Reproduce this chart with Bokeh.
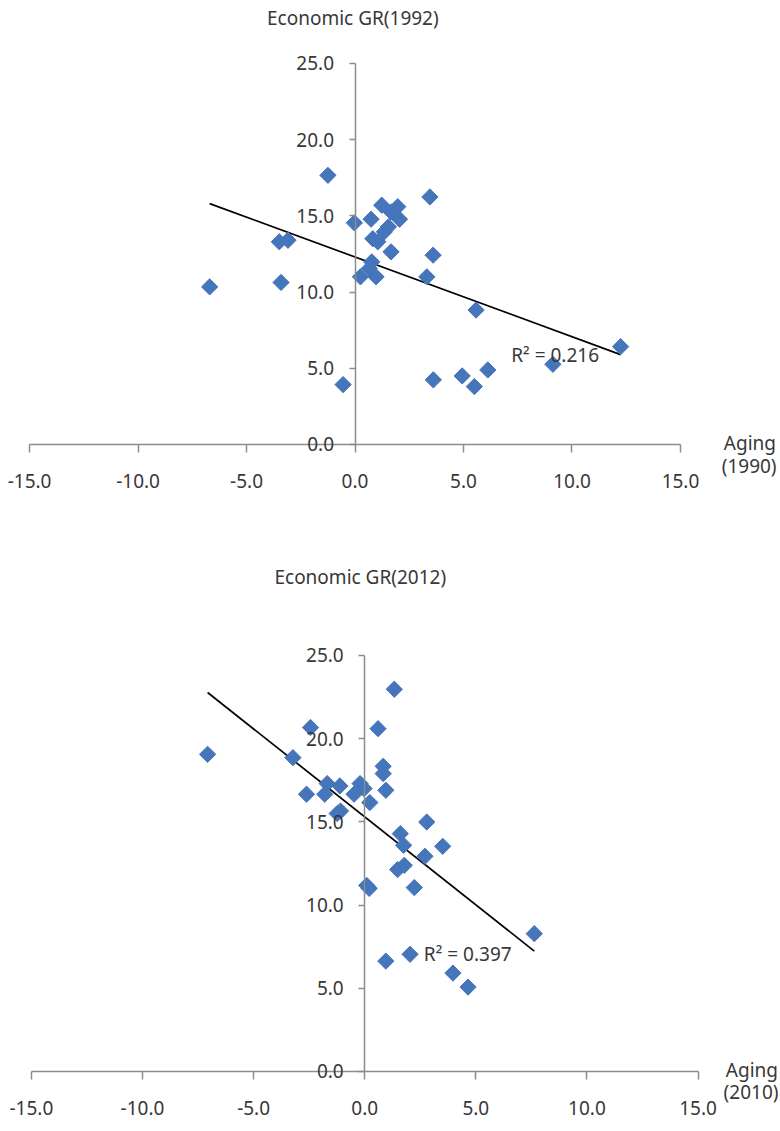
import numpy as np
from bokeh.plotting import figure
from bokeh.layouts import column
from bokeh.models import LinearAxis, FixedTicker, NumeralTickFormatter, Label, ColumnDataSource
from bokeh.embed import file_html
from bokeh.resources import INLINE

# ---- data: chart 1 (Aging 1990 vs Economic GR 1992)
aging_1990 = [-6.70, -1.25, -3.49, -3.09, -3.41, -0.03, 0.25, -0.55, 0.74, 1.23, 1.66, 1.97,
              2.05, 0.82, 1.05, 1.35, 1.54, 1.66, 0.77, 0.66, 0.97, 3.45, 3.60, 3.31, 5.58,
              12.24, 9.12, 6.12, 4.94, 5.50, 3.61]
gr_1992 = [10.34, 17.66, 13.30, 13.40, 10.63, 14.54, 11.00, 3.93, 14.78, 15.70, 15.26, 15.60,
           14.78, 13.50, 13.30, 13.95, 14.28, 12.64, 11.98, 11.55, 11.00, 16.24, 12.42, 11.00, 8.82,
           6.42, 5.26, 4.89, 4.50, 3.80, 4.24]
trend_1992 = (-0.523, 12.30)   # slope, intercept
r2_1992 = "R² = 0.216"

# ---- data: chart 2 (Aging 2010 vs Economic GR 2012)
aging_2010 = [-7.07, -3.23, -2.44, -2.62, -1.80, -1.69, -1.12, -1.24, -1.09, -0.48, -0.21, -0.03,
              0.23, 0.60, 1.33, 0.83, 0.83, 0.95, 2.79, 1.60, 1.75, 3.51, 2.71, 1.48, 1.78,
              0.09, 0.20, 2.23, 7.63, 0.95, 2.04, 3.97, 4.65]
gr_2012 = [19.06, 18.86, 20.67, 16.66, 16.66, 17.30, 17.16, 15.50, 15.65, 16.66, 17.30, 17.00,
           16.16, 20.60, 22.97, 18.34, 17.90, 16.90, 14.99, 14.29, 13.59, 13.53, 12.93, 12.13, 12.39,
           11.18, 11.00, 11.05, 8.28, 6.63, 7.04, 5.91, 5.07]
trend_2012 = (-1.057, 15.30)
r2_2012 = "R² = 0.397"

x_ticks = [-15, -10, -5, 0, 5, 10, 15]
y_ticks = [0, 5, 10, 15, 20, 25]

FONT = "Noto Sans"
FS = "19px"
TXT = "#383838"
AXC = "#8c8c8c"
BLUE = "#4575BA"


def make_chart(xs, ys, trend, r2, title, xlab, h, xr, yr, title_pos, r2_pos, lab_pos):
    p = figure(width=780, height=h, x_range=xr, y_range=yr, output_backend="svg",
               toolbar_location=None, x_axis_type=None, y_axis_type=None,
               min_border=0, outline_line_color=None)
    p.xgrid.visible = False
    p.ygrid.visible = False

    xa = LinearAxis(fixed_location=0, bounds=(-15, 15), ticker=FixedTicker(ticks=x_ticks),
                    formatter=NumeralTickFormatter(format="0.0"))
    ya = LinearAxis(fixed_location=0, bounds=(0, 25), ticker=FixedTicker(ticks=y_ticks),
                    formatter=NumeralTickFormatter(format="0.0"))
    for ax in (xa, ya):
        ax.axis_line_color = AXC
        ax.axis_line_width = 1.5
        ax.major_tick_line_color = AXC
        ax.major_tick_line_width = 1.5
        ax.major_tick_in = 0
        ax.minor_tick_line_color = None
        ax.major_label_text_font = FONT
        ax.major_label_text_font_size = FS
        ax.major_label_text_color = TXT
    xa.major_tick_out = 8
    xa.major_label_standoff = 22
    ya.major_tick_out = 6
    ya.major_label_standoff = 15
    p.add_layout(xa, "below")
    p.add_layout(ya, "left")

    slope, icpt = trend
    tx = np.array([min(xs), max(xs)])
    p.line(tx, slope * tx + icpt, line_color="black", line_width=1.7)

    src = ColumnDataSource(dict(x=xs, y=ys))
    p.scatter("x", "y", source=src, marker="square", angle=np.pi / 4, size=11.5,
              fill_color=BLUE, line_color=BLUE)

    def lab(x, y, t, align):
        p.add_layout(Label(x=x, y=y, text=t, text_align=align, text_baseline="middle",
                           text_font=FONT, text_font_size=FS, text_color=TXT))

    lab(title_pos[0], title_pos[1], title, "center")
    lab(r2_pos[0], r2_pos[1], r2, "left")
    lab(lab_pos[0], lab_pos[1], "Aging", "left")
    lab(lab_pos[0] - 0.1, lab_pos[2], xlab, "left")
    return p


p1 = make_chart(aging_1990, gr_1992, trend_1992, r2_1992, "Economic GR(1992)", "(1990)",
                540, (-16.34, 19.61), (-6.30, 29.13),
                (-0.1, 27.95), (7.2, 5.9), (17.0, 0.07, -1.44))
p2 = make_chart(aging_2010, gr_2012, trend_2012, r2_2012, "Economic GR(2012)", "(2010)",
                591, (-16.39, 18.71), (-3.61, 31.91),
                (-0.2, 29.69), (2.66, 7.03), (16.25, 0.06, -1.26))

layout = column(p1, p2, spacing=0)
open("out.html", "w").write(file_html(layout, INLINE))
